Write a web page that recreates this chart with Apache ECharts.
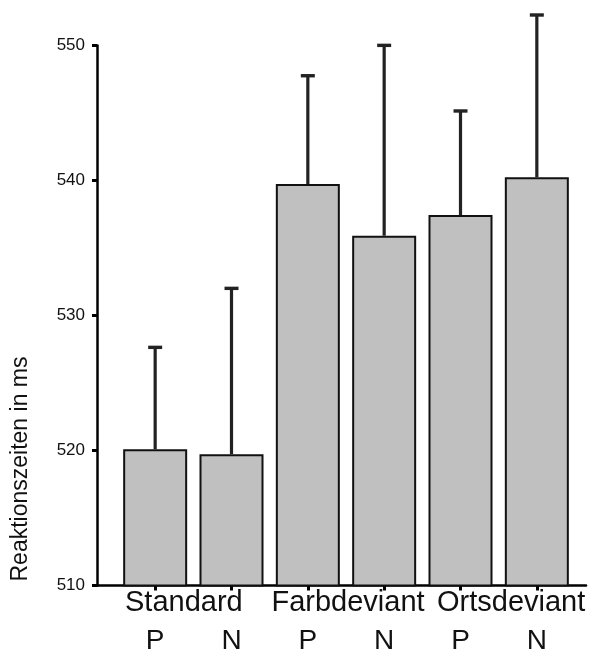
<!DOCTYPE html>
<html>
<head>
<meta charset="utf-8">
<script src="https://cdn.jsdelivr.net/npm/echarts@6/dist/echarts.min.js"></script>
<style>
html,body{margin:0;padding:0;background:#fff;}
#chart{width:589px;height:651px;}
</style>
</head>
<body>
<div id="chart"></div>
<script>
// ---- data ----
var categories = ['P', 'N', 'P', 'N', 'P', 'N'];
var groups = ['Standard', 'Farbdeviant', 'Ortsdeviant'];
var means = [520.09, 519.72, 539.74, 535.91, 537.44, 540.24];
var errors = [7.55, 12.29, 8.02, 14.10, 7.71, 12.02];
var yMin = 510, yMax = 550, yStep = 10;
var yTitle = 'Reaktionszeiten in ms';

var FONT = 'Liberation Sans, Arial, sans-serif';
var groupKeys = ['s', 'f', 'o'];

var chart = echarts.init(document.getElementById('chart'), null, {renderer: 'canvas'});

var errData = means.map(function (m, i) { return [i, m, m + errors[i]]; });

var option = {
  backgroundColor: '#ffffff',
  animation: false,
  grid: [
    {left: 117, right: 14, top: 45.5, bottom: 65.5, containLabel: false, outerBoundsMode: 'none'},
    {left: 97, right: 3, top: 45.5, bottom: 65.5, containLabel: false, outerBoundsMode: 'none'}
  ],
  xAxis: [
    {
      type: 'category', gridIndex: 0, data: categories, position: 'bottom',
      boundaryGap: true,
      axisLine: {show: false},
      axisTick: {show: true, alignWithLabel: true, length: 5, lineStyle: {color: '#000', width: 3}},
      axisLabel: {show: true, interval: 0, hideOverlap: false, margin: 42, fontSize: 28, fontFamily: FONT, color: '#111'},
      splitLine: {show: false}
    },
    {
      type: 'category', gridIndex: 0, data: groups, position: 'bottom',
      boundaryGap: true,
      axisLine: {show: false},
      axisTick: {show: false},
      axisLabel: {
        show: true, interval: 0, hideOverlap: false, margin: 3, fontSize: 29, fontFamily: FONT, color: '#111',
        formatter: function (v, idx) { return '{' + groupKeys[idx] + '|' + v + '}'; },
        rich: {
          s: {fontSize: 29, fontFamily: FONT, color: '#111', padding: [0, 19, 0, 0]},
          f: {fontSize: 29, fontFamily: FONT, color: '#111', padding: [0, 0, 0, 4]},
          o: {fontSize: 29, fontFamily: FONT, color: '#111', padding: [0, 0, 0, 25]}
        }
      },
      splitLine: {show: false}
    },
    {
      type: 'value', gridIndex: 1, min: 0, max: 1, position: 'bottom',
      axisLine: {show: true, lineStyle: {color: '#000', width: 2.5}},
      axisTick: {show: false},
      axisLabel: {show: false},
      splitLine: {show: false}
    }
  ],
  yAxis: [
    {
      type: 'value', gridIndex: 0, min: yMin, max: yMax, interval: yStep,
      show: false, splitLine: {show: false}
    },
    {
      type: 'value', gridIndex: 1, min: yMin, max: yMax, interval: yStep,
      axisLine: {show: true, lineStyle: {color: '#000', width: 2.5}},
      axisTick: {show: true, length: 5, lineStyle: {color: '#000', width: 3}},
      axisLabel: {show: true, margin: 12, fontSize: 17, fontFamily: FONT, color: '#111'},
      splitLine: {show: false}
    }
  ],
  graphic: [
    {
      type: 'text', x: 21, y: 469, rotation: Math.PI / 2,
      style: {
        text: yTitle, fill: '#111', fontSize: 23, fontFamily: FONT,
        textAlign: 'center', textVerticalAlign: 'middle'
      }
    }
  ],
  series: [
    {
      type: 'bar', xAxisIndex: 0, yAxisIndex: 0,
      data: means, barWidth: 64,
      itemStyle: {color: '#c0c0c0', borderColor: '#111', borderWidth: 2},
      z: 3
    },
    {
      type: 'custom', xAxisIndex: 0, yAxisIndex: 0,
      data: errData,
      encode: {x: 0, y: [1, 2]},
      clip: false,
      z: 2,
      renderItem: function (params, api) {
        var x = api.value(0);
        var p0 = api.coord([x, api.value(1)]);
        var p1 = api.coord([x, api.value(2)]);
        var half = 7;
        var st = {stroke: '#222', lineWidth: 3.2, fill: null};
        return {
          type: 'group',
          children: [
            {type: 'line', shape: {x1: p0[0], y1: p0[1], x2: p1[0], y2: p1[1]}, style: st},
            {type: 'line', shape: {x1: p1[0] - half, y1: p1[1], x2: p1[0] + half, y2: p1[1]}, style: {stroke: '#222', lineWidth: 3.4}}
          ]
        };
      }
    }
  ]
};
chart.setOption(option);
</script>
</body>
</html>
